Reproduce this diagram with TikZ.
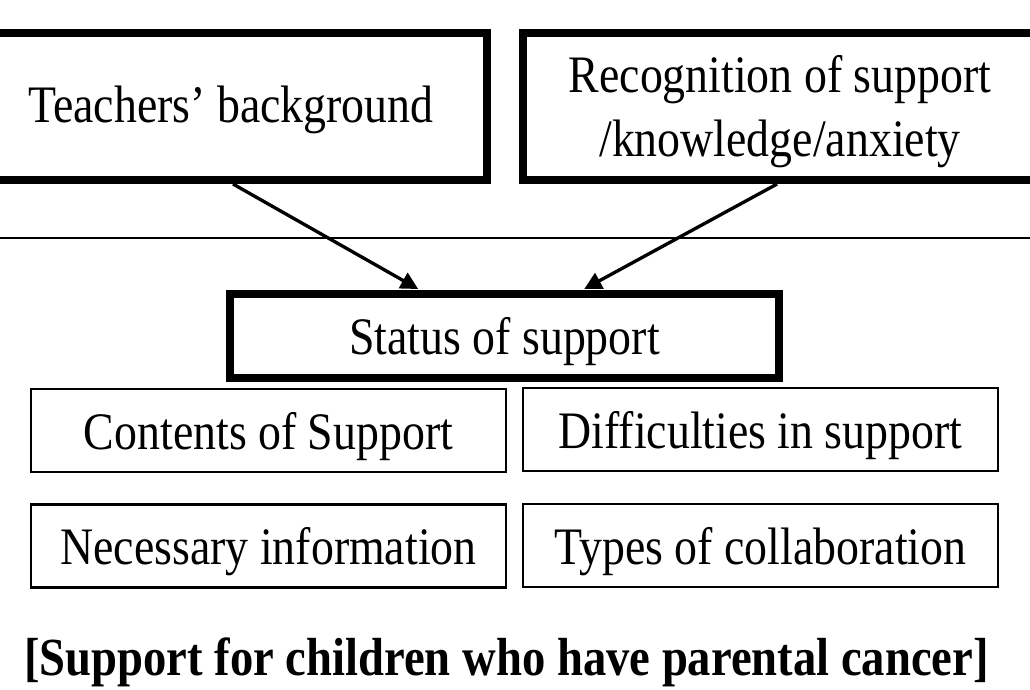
\documentclass[tikz,border=0pt]{standalone}
\usepackage{fontspec}
\setmainfont{Liberation Serif}[FakeStretch=0.87]
\usetikzlibrary{arrows.meta,calc}
\begin{document}
\begin{tikzpicture}[x=0.75pt,y=-0.75pt,
  txt/.style={font=\fontsize{39.5}{48}\selectfont, align=center, inner sep=0pt},
  oneline/.style={text height=30pt, text depth=2.25pt},
  heavybox/.style={txt, draw, line width=6pt, rectangle},
  lightbox/.style={txt, oneline, draw, line width=1.6pt, rectangle, minimum width=475*0.75pt, minimum height=83*0.75pt},
  link/.style={line width=2.5pt, -{Triangle[length=13pt,width=13pt]}, shorten >=2pt}]
  \useasboundingbox (0,0) rectangle (1030,689);
  \clip (0,0) rectangle (1030,689);

  % upper factors
  \node[heavybox, text height=26pt, text depth=2.75pt, minimum width=512*0.75pt, minimum height=147*0.75pt] (tb) at (231,106.5) {Teachers’ background};
  \node[heavybox, minimum width=514*0.75pt, minimum height=147*0.75pt] (rb) at (780,106.5) {\rule{0pt}{36pt}Recognition of support\\/knowledge/anxiety};

  % dividing rule
  \coordinate (ruleL) at (0,238);
  \coordinate (ruleR) at (1030,238);
  \draw[line width=1.5pt] (ruleL) -- (ruleR);

  % status of support and its four aspects
  \node[heavybox, oneline, line width=5.5pt, minimum width=549*0.75pt, minimum height=84*0.75pt] (ss) at (504.5,336) {Status of support};
  \node[lightbox] (cs) at (268.5,430.5) {Contents of Support};
  \node[lightbox] (ds) at (760.5,429.5) {Difficulties in support};
  \node[lightbox] (ni) at (268.5,546) {Necessary information};
  \node[lightbox] (tc) at (760.5,545.5) {Types of collaboration};

  % influences
  \draw[link] ([xshift=1.5pt]tb.south) -- ([xshift=-63pt]ss.north);
  \draw[link] ([xshift=-2.2pt]rb.south) -- ([xshift=58pt]ss.north);

  % caption
  \node[inner sep=0pt, anchor=base, font=\fontsize{40.2}{45}\selectfont\bfseries] (cap) at (506.5,675) {[Support for children who have parental cancer]};
\end{tikzpicture}
\end{document}
